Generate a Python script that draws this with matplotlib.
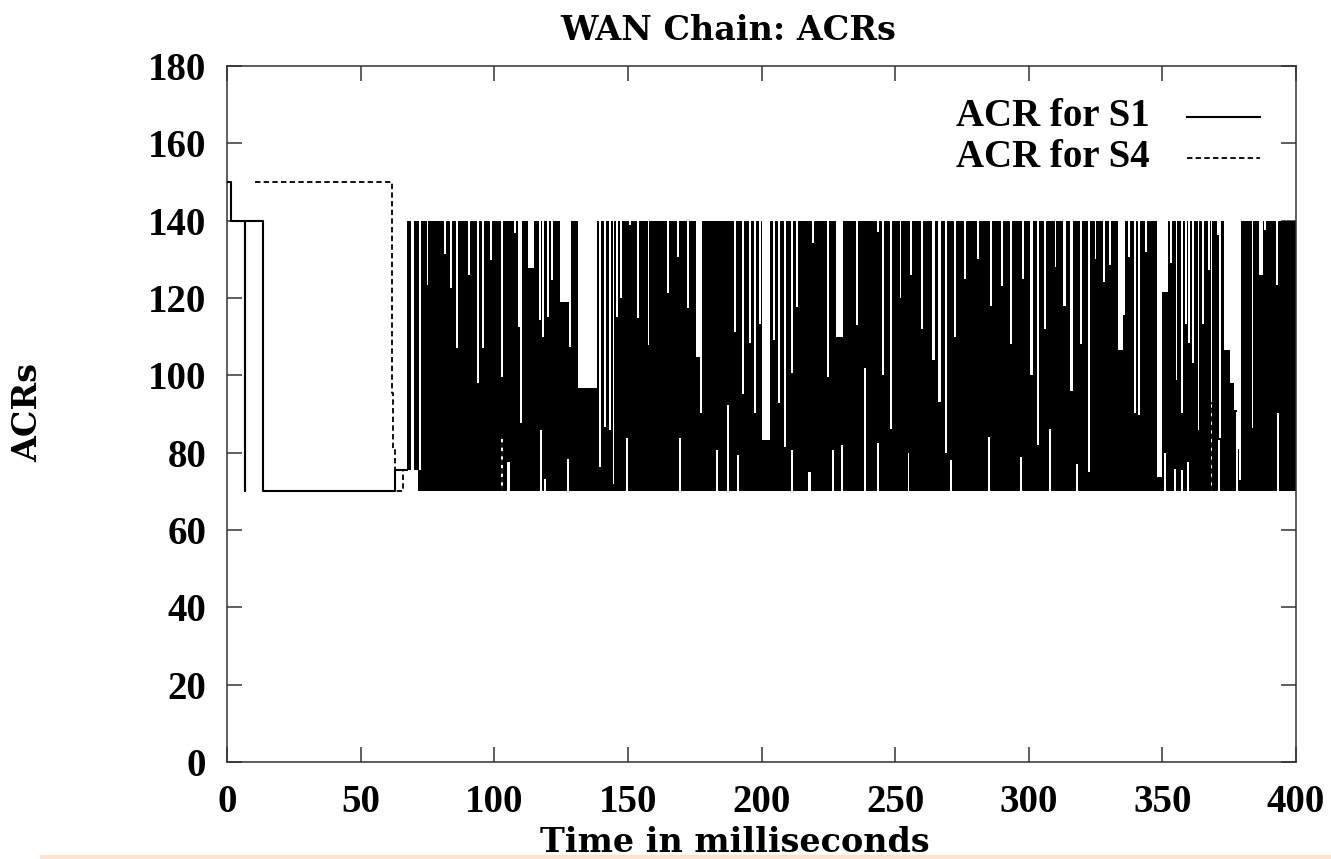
import numpy as np
import matplotlib.pyplot as plt
from matplotlib.patches import Rectangle

# === data ===
X_MAX, Y_MAX = 400, 180
x_ticks = [0, 50, 100, 150, 200, 250, 300, 350, 400]
y_ticks = [0, 20, 40, 60, 80, 100, 120, 140, 160, 180]

# ACR for S1 before the fast oscillation starts (step trace)
s1_t = [0, 1.5, 6.7, 6.8, 13.5, 62.8, 67.4]
s1_v = [150, 140, 70, 140, 70, 75.5, 75.5]

# ACR for S4 (dashed) until it disappears under S1
s4_t = [10.5, 61.6, 62.2, 62.7, 63.0, 65.9, 67.4]
s4_v = [150, 95.5, 80.7, 76, 70, 75.5, 75.5]
# the few S4 swings that show through gaps in S1 later on
s4_peek_t = [102.9, 368.4]
s4_peek_v = [84, 93]

# from ~67 ms S1 swings between 70 and 140 faster than one pixel
burst_t = [67.4, 71.5, 400]
burst_low = [75.5, 70, 70]
burst_high = 140

# moments where the S1 peak stayed below 140 (ms, width ms, peak ACR)
peak_t = [69.4, 72.2, 75.0, 81.6, 83.8, 85.9, 90.6, 93.9, 95.7, 98.8,
          102.8, 107.8, 109.2, 110.0, 113.3, 114.4, 117.1, 118.1, 120.2, 121.5,
          126.4, 128.3, 134.9, 139.6, 141.4, 143.3, 144.6, 145.8, 147.3, 150.8,
          153.9, 157.7, 165.1, 168.9, 172.6, 176.4, 177.2, 190.1, 193.2, 195.7,
          197.6, 199.4, 201.6, 204.7, 206.6, 208.8, 211.3, 213.2, 219.4, 225.0,
          229.2, 235.6, 243.7,
          245.5, 248.5, 252.0, 256.0, 260.0, 264.5, 266.5, 269.0, 272.5, 276.0,
          281.0, 286.0, 290.0, 293.5, 298.0, 301.0, 303.5, 306.0, 310.0, 313.5,
          316.0, 319.5, 322.5, 325.0,
          328.2, 330.4, 334.4, 335.6, 337.6, 339.8, 341.3, 343.9, 348.8, 351.0,
          353.1, 355.3, 357.2, 358.8, 360.1, 361.6, 363.5, 365.3, 367.6, 368.4,
          370.9, 371.6, 374.3, 376.0, 377.4, 378.4, 379.0, 383.7, 386.8, 388.4,
          392.8]
peak_w = [0.8, 0.8, 0.7, 0.7, 0.7, 0.7, 0.7, 1.0, 0.7, 0.7,
          0.7, 0.7, 0.7, 0.7, 1.3, 0.7, 0.8, 0.7, 0.7, 0.7,
          3.6, 0.7, 6.8, 0.7, 0.7, 0.7, 0.7, 0.7, 0.7, 0.7,
          0.7, 0.7, 0.7, 0.7, 0.7, 1.5, 0.7, 0.7, 0.7, 0.7,
          0.7, 0.7, 3.0, 0.7, 0.7, 0.7, 0.7, 0.7, 0.7, 0.7,
          2.8, 0.7, 0.7,
          0.7, 0.7, 0.7, 0.7, 0.7, 1.2, 1.2, 0.7, 0.7, 0.7,
          0.7, 0.7, 0.7, 0.7, 0.7, 1.0, 1.0, 0.7, 0.7, 1.2,
          1.0, 0.7, 0.8, 0.7,
          0.7, 0.7, 1.9, 0.7, 0.7, 0.8, 0.7, 0.7, 1.8, 2.5,
          0.7, 0.7, 0.7, 0.7, 0.7, 0.7, 0.7, 0.7, 0.7, 0.7,
          0.7, 0.7, 2.5, 1.5, 1.0, 0.8, 0.5, 0.7, 1.5, 0.7,
          0.7]
peak_v = [75.5, 75.5, 123.4, 131.5, 122.5, 107.0, 126.0, 97.9, 107.0, 129.8,
          99.6, 136.7, 112.6, 87.6, 127.7, 127.7, 114.3, 110.0, 115.2, 124.6,
          119.0, 107.4, 96.6, 76.4, 86.7, 85.9, 72.0, 115.2, 119.9, 138.9,
          114.7, 107.8, 121.2, 130.7, 117.3, 104.8, 90.2, 111.3, 95.3, 108.3,
          90.2, 113.4, 83.3, 109.1, 92.8, 81.5, 100.5, 117.7, 134.1, 99.6,
          110.0, 113.0, 137.0,
          100, 86, 120, 126, 112, 104, 93, 80, 110, 125,
          130, 118, 123, 108, 125, 100, 82, 112, 128, 118,
          96, 108, 75, 130,
          124.2, 128.5, 106.5, 115.6, 130.7, 90.2, 89.7, 132.0, 73.8, 121.6,
          129.0, 98.8, 90.2, 113.4, 108.3, 103.1, 85.9, 113.4, 127.2, 70.0,
          136.3, 83.7, 106.5, 97.9, 91.0, 81.0, 73.0, 86.3, 126.0, 137.6,
          123.4]

# moments where S1 did not fall back to 70 (ms, width ms, lowest ACR)
floor_t = [102.9, 105.3, 117.4, 119.0, 127.7, 149.6, 169.5, 183.2, 187.6, 191.3,
           211.3, 218.1, 226.9, 230.0, 238.7, 243.7, 255.0, 271.0, 285.0, 297.0,
           308.0, 318.0, 351.0, 354.7, 357.2, 359.7, 371.3, 377.8, 393.4]
floor_w = [0.6, 1.2, 0.7, 0.7, 0.7, 0.7, 0.7, 0.7, 0.7, 0.7,
           0.7, 1.2, 0.7, 0.7, 0.7, 0.7, 0.7, 0.7, 0.7, 0.7,
           0.7, 0.7, 0.7, 0.7, 0.7, 0.7, 0.7, 0.7, 0.7]
floor_v = [84.0, 77.7, 85.8, 73.3, 78.3, 83.7, 83.7, 80.7, 92.3, 79.4,
           80.8, 75.1, 80.7, 82.0, 101.8, 82.4, 80, 78, 84, 79,
           86, 77, 79.8, 75.9, 75.5, 77.7, 83.3, 90.6, 90.2]

# === figure ===
plt.rcParams['font.family'] = ['Liberation Serif', 'DejaVu Serif']
plt.rcParams['font.weight'] = 'bold'
FS = 28
LABEL_FONT = dict(family='DejaVu Serif', fontsize=24, weight='bold')
DASH = (0, (3, 1.8))

fig = plt.figure(figsize=(13.31, 8.59), dpi=100)
ax = fig.add_axes([227 / 1331, 1 - 762 / 859, 1069 / 1331, 696 / 859])

ax.plot(s1_t, s1_v, drawstyle='steps-post', color='black', lw=1.5, zorder=3)
ax.plot(s4_t, s4_v, drawstyle='steps-post', color='black', lw=1.3,
        linestyle=DASH, zorder=3)
ax.vlines(s4_peek_t, 70, s4_peek_v, color='black', lw=1.3,
          linestyles=[DASH], zorder=3)

ax.fill_between(burst_t, burst_low, burst_high, step='post',
                color='black', lw=0, zorder=2)
ax.bar(peak_t, [burst_high - v for v in peak_v], width=peak_w, bottom=peak_v,
       color='white', lw=0, zorder=2.5)
ax.bar(floor_t, [v - 70 for v in floor_v], width=floor_w, bottom=70,
       color='white', lw=0, zorder=2.5)

ax.set_xlim(0, X_MAX)
ax.set_ylim(0, Y_MAX)
ax.set_xticks(x_ticks)
ax.set_yticks(y_ticks)
ax.tick_params(direction='in', length=11, width=1.1, color='#333333',
               top=True, right=True, labelsize=FS)
ax.tick_params(axis='x', pad=16)
ax.tick_params(axis='y', pad=15)
for s in ax.spines.values():
    s.set_color('#333333')
    s.set_linewidth(1.1)

fig.text(728 / 1331, 1 - 30 / 859, 'WAN Chain: ACRs', ha='center',
         va='center', **LABEL_FONT)
fig.text(735 / 1331, 1 - 842 / 859, 'Time in milliseconds', ha='center',
         va='center', **LABEL_FONT)
fig.text(28 / 1331, 1 - 412 / 859, 'ACRs', rotation=90, ha='center',
         va='center', **LABEL_FONT)

# key: label on the left, line sample on the right
ax.text(0.863, 0.927, 'ACR for S1', transform=ax.transAxes, fontsize=FS,
        ha='right', va='center')
ax.plot([0.898, 0.966], [0.927, 0.927], transform=ax.transAxes,
        color='black', lw=1.5)
ax.text(0.863, 0.868, 'ACR for S4', transform=ax.transAxes, fontsize=FS,
        ha='right', va='center')
ax.plot([0.898, 0.966], [0.868, 0.868], transform=ax.transAxes,
        color='black', lw=1.3, linestyle=DASH)

# thin peach strip along the bottom edge of the image
fig.patches.append(Rectangle((0.03, 0), 0.97, 4 / 859, transform=fig.transFigure,
                             color='#fbe3d0', lw=0))

fig.savefig('out.png', dpi=100, facecolor='white')
